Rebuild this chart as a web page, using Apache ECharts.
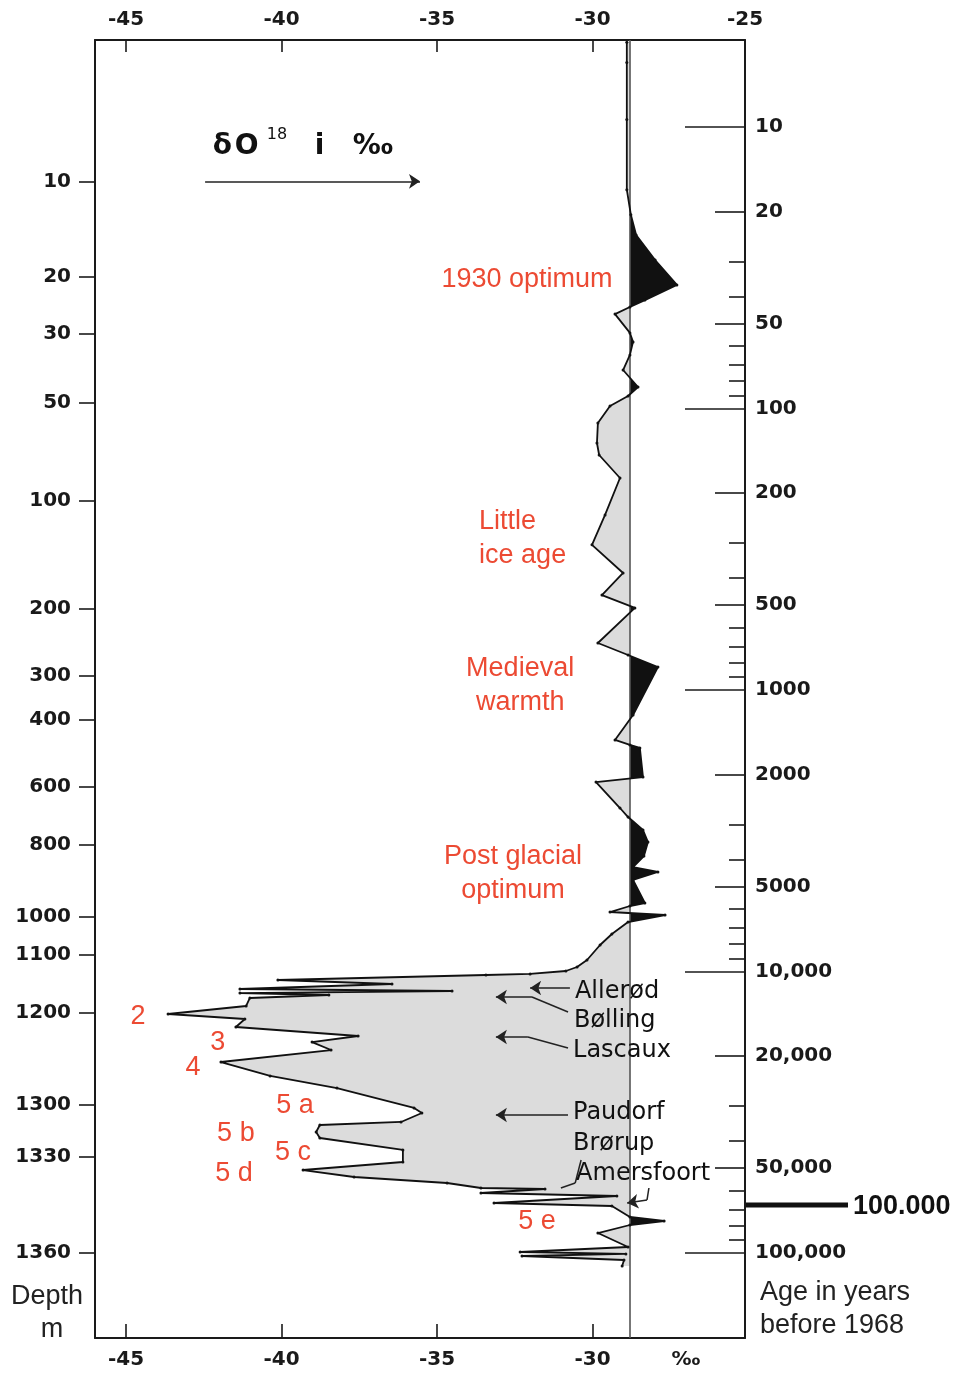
<!DOCTYPE html>
<html><head><meta charset="utf-8">
<script src="https://cdn.jsdelivr.net/npm/echarts@6/dist/echarts.min.js"></script>
<style>html,body{margin:0;padding:0;background:#fff;}#chart{width:960px;height:1377px;}</style>
</head><body><div id="chart"></div>
<script>
// ---- data ----
const deltaValues = [
-28.90, -28.90, -28.90, -28.90, -28.77, -28.60, -27.99, -27.29, -28.32, -28.80,
-29.28, -28.80, -28.70, -28.80, -29.02, -28.54, -28.86, -29.44, -29.83, -29.86,
-29.79, -29.12, -29.60, -30.02, -29.02, -29.70, -28.64, -29.83, -28.86, -27.90,
-28.70, -29.28, -28.80, -28.48, -28.38, -29.89, -29.12, -28.86, -28.38, -28.22,
-28.35, -28.70, -27.90, -28.70, -28.32, -28.80, -29.44, -27.67, -28.86, -29.38,
-29.76, -30.18, -30.50, -30.86, -32.01, -33.43, -40.12, -36.45, -41.34, -34.52,
-41.34, -38.48, -41.02, -41.14, -43.65, -41.18, -41.47, -37.54, -39.02, -38.41,
-41.95, -40.37, -38.22, -35.74, -35.49, -36.16, -38.77, -38.89, -38.77, -36.10,
-36.10, -39.31, -37.67, -34.68, -33.59, -31.53, -33.59, -29.22, -33.17, -29.38,
-28.80, -27.70, -28.80, -29.83, -28.86, -32.33, -28.93, -32.27, -28.99, -29.05
];
const ageValues = [
5, 5.9, 9.4, 16.7, 20.5, 24.2, 29.7, 36.4, 41.2, 43.6,
46.2, 53.9, 58, 64.5, 73, 83.9, 90.3, 98, 112.6, 132.6,
146.3, 176.6, 238.9, 305, 384, 460, 511, 681, 751, 829,
1227, 1505, 1568, 1607, 2038, 2123, 2626, 2827, 3143, 3467,
3889, 4255, 4432, 4732, 5712, 5853, 6148, 6301, 6672, 7359,
8053, 9103, 9639, 9959, 10200, 10290, 10720, 11080, 11540, 11730,
11930, 12120, 12420, 13260, 14160, 14750, 15750, 16950, 17810, 19010,
20970, 23500, 25940, 30530, 31820, 34240, 35100, 37170, 39040, 43060,
47510, 50730, 53710, 56410, 58770, 59250, 61230, 62740, 66440, 68080,
74490, 76970, 79540, 84920, 95210, 99180, 100800, 102500, 105900, 111200
];
const referenceDelta = -28.8;

const deltaTicks = [-45, -40, -35, -30];
const deltaTopLabels = [-45, -40, -35, -30, -25.1];
const deltaBottomLabels = [-45, -40, -35, -30, -27];

const ageTickLabels = [10, 20, 50, 100, 200, 500, 1000, 2000, 5000, 10000, 20000, 50000, 100000];
const ageMajorTicks = [10, 100, 1000, 10000, 100000];
const ageMediumTicks = [20, 50, 200, 500, 2000, 5000, 20000, 50000];
const ageMinorTicks = [30, 40, 60, 70, 80, 90, 300, 400, 600, 700, 800, 900,
  3000, 4000, 6000, 7000, 8000, 9000, 30000, 40000, 60000, 70000, 80000, 90000];

const depthTickLabels = [10, 20, 30, 50, 100, 200, 300, 400, 600, 800, 1000, 1100, 1200, 1300, 1330, 1360];
const depthTickAges = [15.6, 34.1, 54.3, 95.6, 213, 516, 892, 1278, 2213, 3556, 6404, 8736, 14030, 29800, 45600, 100000];

const noteTexts = ['1930 optimum', 'Little\nice age', 'Medieval\nwarmth', 'Post glacial\noptimum',
  '2', '3', '4', '5 a', '5 b', '5 c', '5 d', '5 e'];
const noteDelta = [-32.11, -33.65, -32.33, -32.56, -44.62, -42.05, -42.85, -39.57, -41.47, -39.63, -41.53, -31.79];
const noteAge = [34.7, 290.8, 967.8, 4504, 14510, 17810, 22020, 30050, 37780, 44130, 52410, 77610];

const eventTexts = ['Allerød', 'Bølling', 'Lascaux', 'Paudorf', 'Brørup', 'Amersfoort'];
const eventDelta = [-30.57, -30.60, -30.63, -30.63, -30.63, -30.53];
const eventAge = [11830, 14990, 19160, 31820, 41010, 52410];

const arrowPaths = [
  [[-30.73, 11450], [-32.01, 11450]],
  [[-30.79, 13930], [-31.95, 12320], [-33.11, 12320]],
  [[-30.79, 18700], [-32.08, 17090], [-33.11, 17090]],
  [[-30.79, 32340], [-33.11, 32340]],
  [[-42.46, 15.6], [-35.55, 15.6]],
  [[-28.19, 58770], [-28.25, 64810], [-28.89, 66440]]
];
const pointerPaths = [
  [[-30.37, 46730], [-30.56, 56410], [-31.02, 58770]]
];
const markerAge = 67500;

// ---- helpers ----
const L = v => Math.log10(v);
const xMin = -46, xMax = -25.1;
const yMin = 0.691, yMax = 5.302;
const AX = '#1a1a1a';
const TF = "'DejaVu Sans', sans-serif";
const AF = "'Liberation Sans', Arial, sans-serif";
const RED = '#ec4a33';

const pts = deltaValues.map((d, i) => [d, L(ageValues[i])]);
const dense = [];
for (let i = 0; i < pts.length; i++) {
  dense.push(pts[i]);
  if (i < pts.length - 1) {
    const a = pts[i], b = pts[i + 1];
    if ((a[0] - referenceDelta) * (b[0] - referenceDelta) < 0) {
      const t = (referenceDelta - a[0]) / (b[0] - a[0]);
      dense.push([referenceDelta, a[1] + t * (b[1] - a[1])]);
    }
  }
}
const first = dense[0][1], last = dense[dense.length - 1][1];
const grayPoly = dense.map(p => [Math.min(p[0], referenceDelta), p[1]]).concat([[referenceDelta, last], [referenceDelta, first]]);
const blackPoly = dense.map(p => [Math.max(p[0], referenceDelta), p[1]]).concat([[referenceDelta, last], [referenceDelta, first]]);

// split annotation paths into straight segments (arrowhead on the final one)
const headSegs = [], plainSegs = [];
arrowPaths.concat(pointerPaths).forEach((c, k) => {
  for (let i = 0; i < c.length - 1; i++) {
    const seg = { coords: [[c[i][0], L(c[i][1])], [c[i + 1][0], L(c[i + 1][1])]] };
    if (k < arrowPaths.length && i === c.length - 2) headSegs.push(seg); else plainSegs.push(seg);
  }
});

function ageFmt(v) {
  const a = Math.round(Math.pow(10, v));
  return a >= 10000 ? String(a).replace(/\B(?=(\d{3})+(?!\d))/g, ',') : String(a);
}
const depthLog = depthTickAges.map(L);
function depthFmt(v) {
  let best = 0;
  for (let i = 0; i < depthLog.length; i++) if (Math.abs(depthLog[i] - v) < Math.abs(depthLog[best] - v)) best = i;
  return String(depthTickLabels[best]);
}
function yAx(extra) {
  return Object.assign({
    type: 'value', inverse: true, min: yMin, max: yMax, position: 'right', offset: 0,
    splitLine: { show: false },
    axisLine: { show: false, onZero: false },
    axisLabel: { show: false }, axisTick: { show: false }
  }, extra);
}
const tickStyle = { color: AX, width: 1.6 };
const labelStyle = { fontSize: 20, fontWeight: 'bold', fontFamily: TF, color: '#1a1a1a' };

const chart = echarts.init(document.getElementById('chart'));
const option = {
  backgroundColor: '#fff',
  animation: false,
  grid: { left: 95, right: 215, top: 40, bottom: 39, containLabel: false },
  xAxis: [
    {
      type: 'value', position: 'bottom', min: xMin, max: xMax,
      splitLine: { show: false },
      axisLine: { onZero: false, lineStyle: { color: AX, width: 2 } },
      axisTick: { inside: true, length: 14, customValues: deltaTicks, lineStyle: tickStyle },
      axisLabel: Object.assign({
        customValues: deltaBottomLabels, margin: 12,
        formatter: v => (Math.abs(v + 27) < 1e-6 ? '‰' : String(v))
      }, labelStyle)
    },
    {
      type: 'value', position: 'top', min: xMin, max: xMax,
      splitLine: { show: false },
      axisLine: { onZero: false, lineStyle: { color: AX, width: 2 } },
      axisTick: { inside: true, length: 12, customValues: deltaTicks, lineStyle: tickStyle },
      axisLabel: Object.assign({
        customValues: deltaTopLabels, margin: 10,
        formatter: v => String(Math.round(v))
      }, labelStyle)
    }
  ],
  yAxis: [
    yAx({
      axisLine: { show: true, onZero: false, lineStyle: { color: AX, width: 2 } },
      axisTick: { show: true, inside: true, length: 30, customValues: ageMediumTicks.map(L), lineStyle: tickStyle },
      axisLabel: Object.assign({ show: true, customValues: ageTickLabels.map(L), formatter: ageFmt, margin: 10 }, labelStyle)
    }),
    yAx({ axisTick: { show: true, inside: true, length: 60, customValues: ageMajorTicks.map(L), lineStyle: tickStyle } }),
    yAx({ axisTick: { show: true, inside: true, length: 16, customValues: ageMinorTicks.map(L), lineStyle: tickStyle } }),
    yAx({
      position: 'left',
      axisLine: { show: true, onZero: false, lineStyle: { color: AX, width: 2 } },
      axisTick: { show: true, inside: false, length: 16, customValues: depthLog, lineStyle: tickStyle },
      axisLabel: Object.assign({ show: true, customValues: depthLog, formatter: depthFmt, margin: 24 }, labelStyle)
    })
  ],
  series: [
    {
      type: 'custom', coordinateSystem: 'cartesian2d', xAxisIndex: 0, yAxisIndex: 0, z: 1, silent: true,
      data: [[referenceDelta, first]],
      renderItem: (params, api) => ({
        type: 'group',
        children: [
          { type: 'polygon', shape: { points: grayPoly.map(p => api.coord(p)) }, style: { fill: '#dcdcdc', stroke: null } },
          { type: 'polygon', shape: { points: blackPoly.map(p => api.coord(p)) }, style: { fill: '#111', stroke: null } }
        ]
      })
    },
    {
      type: 'line', xAxisIndex: 0, yAxisIndex: 0, z: 3, silent: true,
      data: pts, symbol: 'circle', symbolSize: 3, showSymbol: true,
      itemStyle: { color: '#111' },
      lineStyle: { color: '#111', width: 1.8 },
      markLine: {
        silent: true, symbol: 'none', label: { show: false }, z: 2,
        lineStyle: { color: '#555', width: 1.6, type: 'solid' },
        data: [{ xAxis: referenceDelta }]
      }
    },
    {
      type: 'lines', coordinateSystem: 'cartesian2d', xAxisIndex: 0, yAxisIndex: 0, z: 5, silent: true,
      symbol: ['none', 'arrow'], symbolSize: [0, 11],
      lineStyle: { color: '#222', width: 1.5, opacity: 1, curveness: 0 },
      data: headSegs
    },
    {
      type: 'lines', coordinateSystem: 'cartesian2d', xAxisIndex: 0, yAxisIndex: 0, z: 5, silent: true,
      symbol: ['none', 'none'],
      lineStyle: { color: '#222', width: 1.5, opacity: 1, curveness: 0 },
      data: plainSegs
    },
    {
      type: 'custom', coordinateSystem: 'cartesian2d', xAxisIndex: 0, yAxisIndex: 0, z: 10, silent: true,
      data: noteDelta.map((d, i) => [d, L(noteAge[i])]),
      renderItem: (params, api) => {
        const i = params.dataIndex;
        const p = api.coord([api.value(0), api.value(1)]);
        return { type: 'text', x: p[0], y: p[1], style: {
          text: noteTexts[i], fill: RED, font: '27px ' + AF,
          align: i === 1 ? 'left' : 'center', verticalAlign: 'middle', lineHeight: 34 } };
      }
    },
    {
      type: 'custom', coordinateSystem: 'cartesian2d', xAxisIndex: 0, yAxisIndex: 0, z: 10, silent: true,
      data: eventDelta.map((d, i) => [d, L(eventAge[i])]),
      renderItem: (params, api) => {
        const i = params.dataIndex;
        const p = api.coord([api.value(0), api.value(1)]);
        return { type: 'text', x: p[0], y: p[1], style: {
          text: eventTexts[i], fill: '#111', font: '24px ' + TF,
          align: 'left', verticalAlign: 'middle' } };
      }
    }
  ]
};
chart.setOption(option);

const mY = chart.convertToPixel({ yAxisIndex: 0 }, L(markerAge));
const rX = chart.convertToPixel({ xAxisIndex: 0 }, xMax);
const tY = chart.convertToPixel({ yAxisIndex: 0 }, L(11.6));
const tX = chart.convertToPixel({ xAxisIndex: 0 }, -42.21);
const TT = 'bold 28px ' + TF;
chart.setOption({
  graphic: [
    { type: 'line', shape: { x1: rX, y1: mY, x2: rX + 103, y2: mY }, style: { stroke: '#111', lineWidth: 5 } },
    { type: 'text', x: rX + 108, y: mY + 2, style: { text: '100.000', font: 'bold 27px ' + AF, fill: '#111', verticalAlign: 'middle' } },
    { type: 'text', x: 47, y: 1297, style: { text: 'Depth', font: '27px ' + AF, fill: '#222', align: 'center', verticalAlign: 'middle' } },
    { type: 'text', x: 52, y: 1330, style: { text: 'm', font: '27px ' + AF, fill: '#222', align: 'center', verticalAlign: 'middle' } },
    { type: 'text', x: 760, y: 1293, style: { text: 'Age in years', font: '27px ' + AF, fill: '#222', verticalAlign: 'middle' } },
    { type: 'text', x: 760, y: 1326, style: { text: 'before 1968', font: '27px ' + AF, fill: '#222', verticalAlign: 'middle' } },
    { type: 'text', x: tX, y: tY + 2, style: { text: 'δ', font: TT, fill: '#111', verticalAlign: 'middle' } },
    { type: 'text', x: tX + 22, y: tY + 2, style: { text: 'O', font: TT, fill: '#111', verticalAlign: 'middle' } },
    { type: 'text', x: tX + 54, y: tY - 10, style: { text: '18', font: '16px ' + TF, fill: '#111', verticalAlign: 'middle' } },
    { type: 'text', x: tX + 102, y: tY + 2, style: { text: 'i', font: TT, fill: '#111', verticalAlign: 'middle' } },
    { type: 'text', x: tX + 140, y: tY + 2, style: { text: '‰', font: TT, fill: '#111', verticalAlign: 'middle' } }
  ]
});
</script></body></html>
